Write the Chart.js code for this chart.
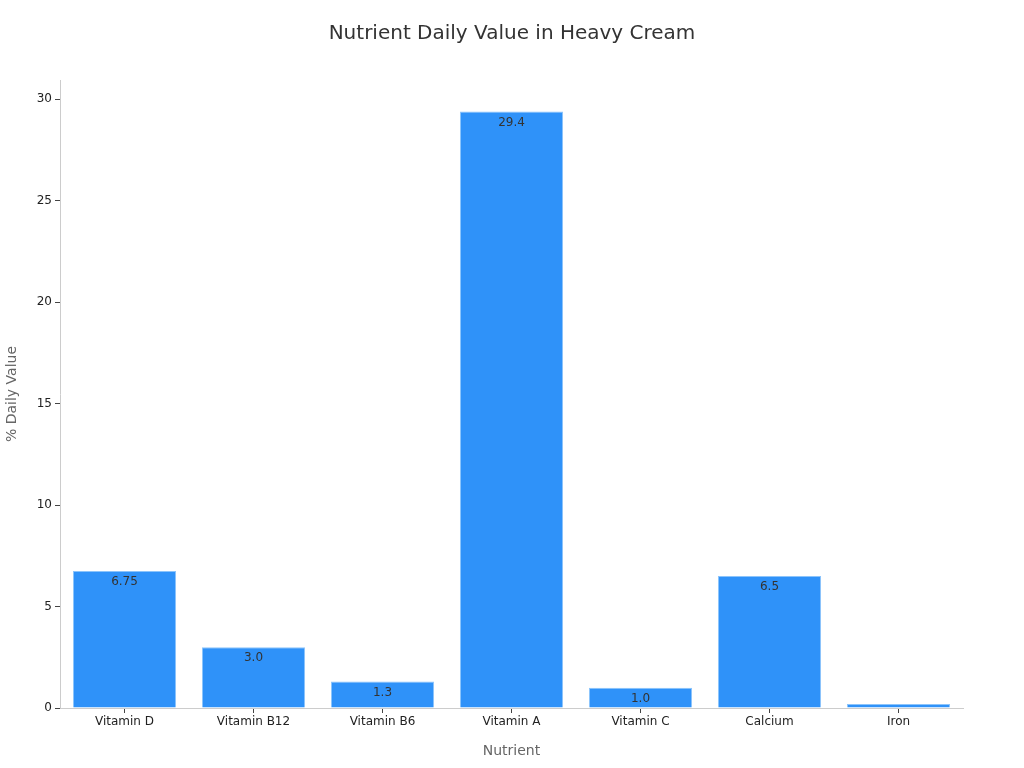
<!DOCTYPE html>
<html>
<head>
<meta charset="utf-8">
<script src="https://cdn.jsdelivr.net/npm/chart.js@4"></script>
<style>
html,body{margin:0;padding:0;background:#fff;}
#wrap{width:1024px;height:768px;position:relative;}
</style>
</head>
<body>
<div id="wrap"><canvas id="c" width="1024" height="768"></canvas></div>
<script>
const categories = ["Vitamin D","Vitamin B12","Vitamin B6","Vitamin A","Vitamin C","Calcium","Iron"];
const values = [6.75, 3.0, 1.3, 29.4, 1.0, 6.5, 0.2];
const valueLabels = ["6.75","3.0","1.3","29.4","1.0","6.5","0.2"];
const yTicks = [0,5,10,15,20,25,30];
const titleText = 'Nutrient Daily Value in Heavy Cream';

const labelPlugin = {
  id: 'barLabels',
  afterDatasetsDraw(chart) {
    const ctx = chart.ctx;
    const a = chart.chartArea;
    const meta = chart.getDatasetMeta(0);
    ctx.save();
    ctx.beginPath();
    ctx.rect(a.left, a.top, a.right - a.left, a.bottom - a.top);
    ctx.clip();
    ctx.font = '12px "DejaVu Sans"';
    ctx.fillStyle = '#333333';
    ctx.textAlign = 'center';
    ctx.textBaseline = 'middle';
    meta.data.forEach((bar, i) => {
      ctx.fillText(valueLabels[i], bar.x, bar.y + 11);
    });
    ctx.restore();
  },
  afterDraw(chart) {
    const ctx = chart.ctx;
    ctx.save();
    ctx.font = '20px "DejaVu Sans"';
    ctx.fillStyle = '#333333';
    ctx.textAlign = 'center';
    ctx.textBaseline = 'middle';
    ctx.fillText(titleText, chart.width / 2, 34);
    ctx.restore();
  }
};

new Chart(document.getElementById('c'), {
  type: 'bar',
  data: {
    labels: categories,
    datasets: [{
      data: values,
      backgroundColor: '#2f92f9',
      borderColor: '#8cc4fb',
      borderWidth: 1,
      barPercentage: 0.8,
      categoryPercentage: 1.0
    }]
  },
  options: {
    responsive: false,
    animation: false,
    devicePixelRatio: 1,
    layout: { padding: { left: 0, right: 61, top: 80, bottom: 0 } },
    plugins: {
      legend: { display: false },
      tooltip: { enabled: false },
      title: { display: false }
    },
    scales: {
      x: {
        grid: { display: true, offset: false, drawOnChartArea: false, drawTicks: true, tickLength: 5, color: '#444' },
        border: { display: true, color: '#cccccc' },
        ticks: { color: '#222', font: { family: 'DejaVu Sans', size: 12 }, padding: 2 },
        title: { display: true, text: 'Nutrient', color: '#666', font: { family: 'DejaVu Sans', size: 14 }, padding: { top: 8, bottom: 8 } },
        afterFit(s) { s.height = 60; }
      },
      y: {
        min: 0,
        max: 30.95,
        afterBuildTicks(s) { s.ticks = yTicks.map(v => ({ value: v })); },
        grid: { display: true, drawOnChartArea: false, drawTicks: true, tickLength: 5, color: '#444' },
        border: { display: true, color: '#cccccc' },
        ticks: { color: '#222', font: { family: 'DejaVu Sans', size: 12 }, padding: 3 },
        title: { display: true, text: '% Daily Value', color: '#666', font: { family: 'DejaVu Sans', size: 14 }, padding: { top: 4, bottom: 4 } },
        afterFit(s) { s.width = 60; }
      }
    }
  },
  plugins: [labelPlugin]
});
</script>
</body>
</html>
